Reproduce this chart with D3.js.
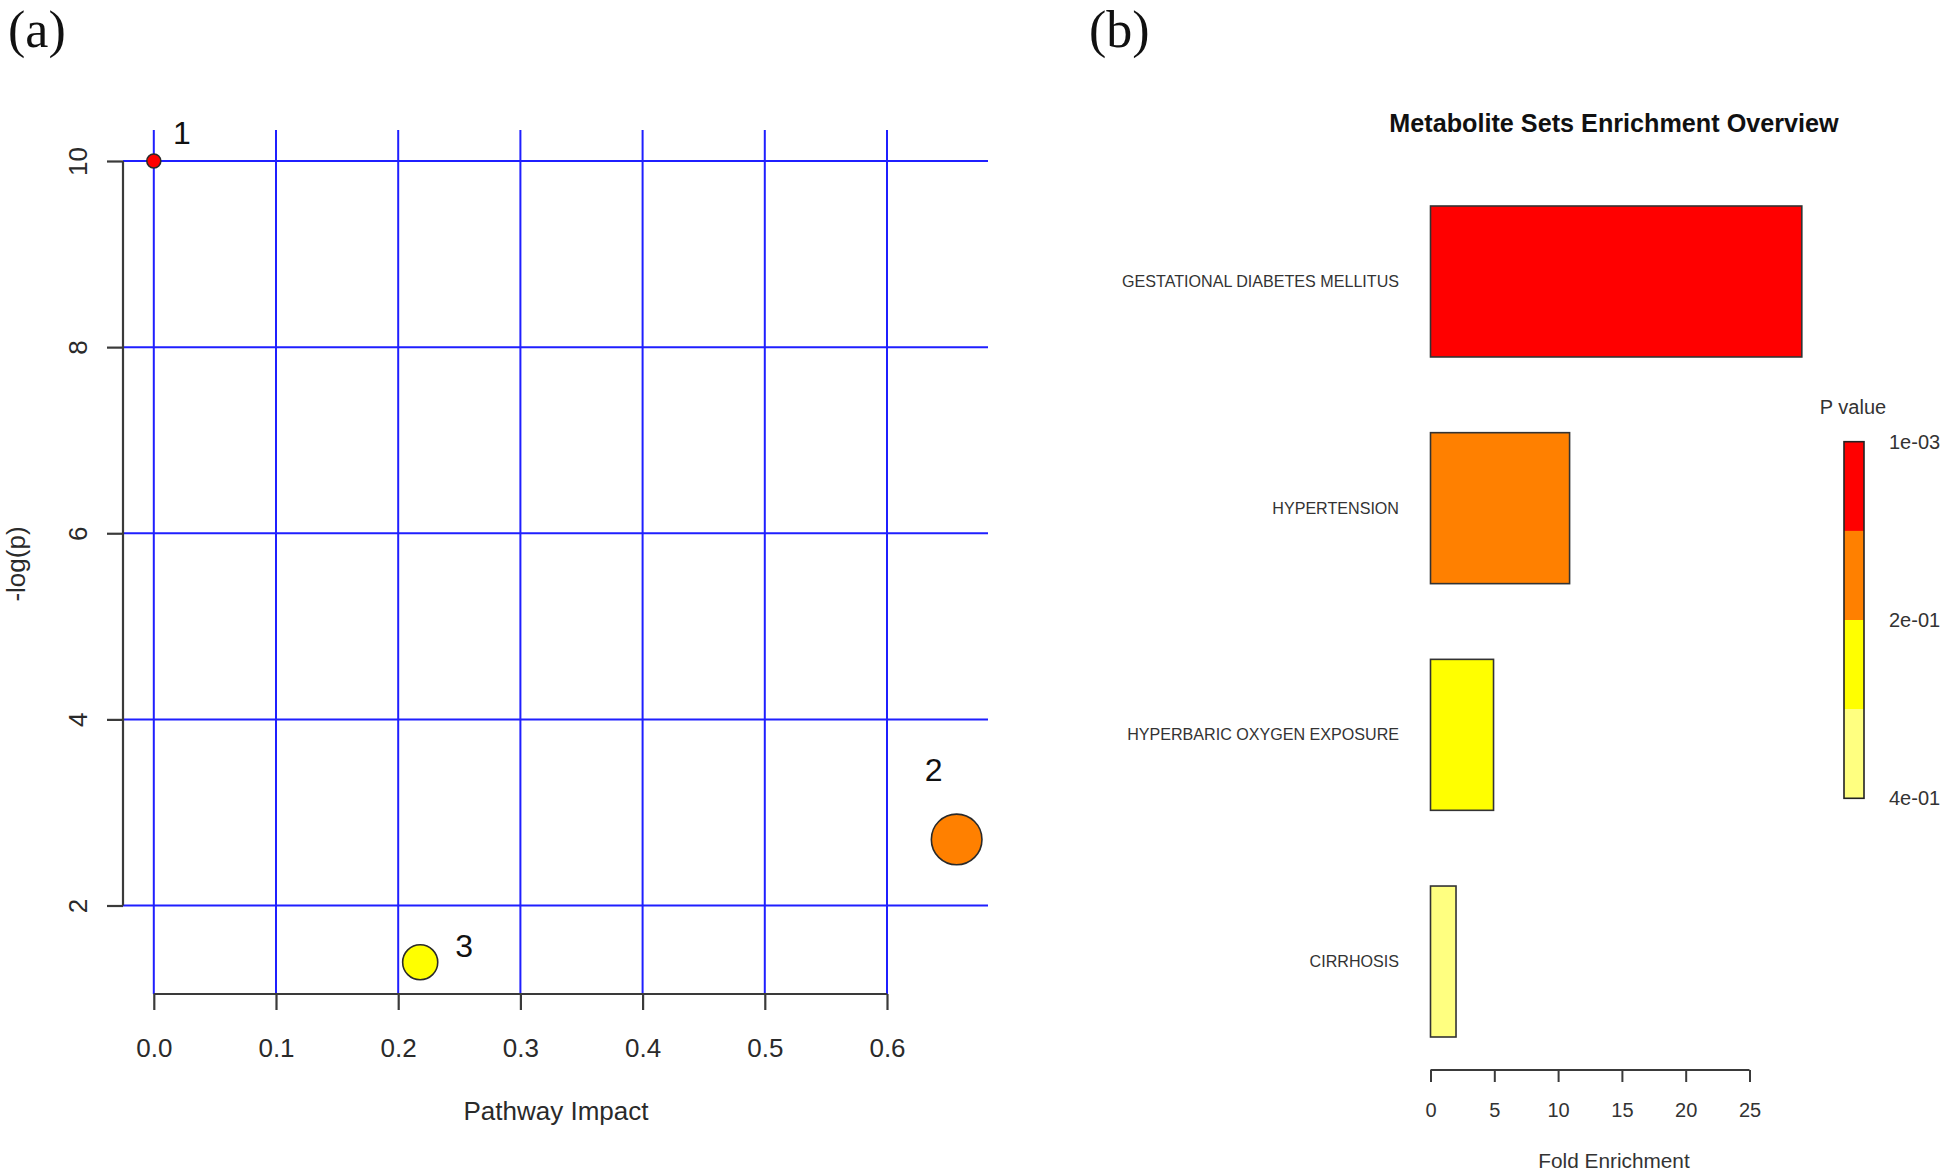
<!DOCTYPE html>
<html>
<head>
<meta charset="utf-8">
<script src="https://cdn.jsdelivr.net/npm/d3@7"></script>
<style>
  html, body { margin: 0; padding: 0; background: #fff; }
  svg { display: block; }
  text { font-family: "Liberation Sans", Arial, sans-serif; }
</style>
</head>
<body>
<svg id="chart" width="1945" height="1173"></svg>
<script>
// ---------------- DATA ----------------
// Panel (a): pathway topology
const pathwayIds = ["1", "2", "3"];
const pathwayImpact = [0.0, 0.657, 0.218];
const negLogP = [10.0, 2.71, 1.39];
const xTicksA = [0.0, 0.1, 0.2, 0.3, 0.4, 0.5, 0.6];
const yTicksA = [2, 4, 6, 8, 10];

// Panel (b): metabolite set enrichment
const metaboliteSets = ["GESTATIONAL DIABETES MELLITUS", "HYPERTENSION", "HYPERBARIC OXYGEN EXPOSURE", "CIRRHOSIS"];
const foldEnrichment = [29.1, 10.9, 4.94, 2.0];
const foldTicks = [0, 5, 10, 15, 20, 25];
const pLegendValues = [0.001, 0.2, 0.4];
const pLegendLabels = ["1e-03", "2e-01", "4e-01"];

// ---------------- STYLE ----------------
const heatColors = ["#FF0000", "#FF8000", "#FFFF00", "#FFFF80"];
const pointColorIdx = [0, 1, 2];
const labelOffsets = [[28, -28], [-23, -70], [44, -16]];
const gridColor = "#1f1fff";
const axisColor = "#3a3a3a";
const textColor = "#2a2a2a";

const svg = d3.select("#chart");

// ================= PANEL (a) =================
const plotA = { left: 123, right: 988, top: 130, bottom: 994 };
const xA = d3.scaleLinear().domain([0, 0.6]).range([153.8, 887]);
const yA = d3.scaleLinear().domain([2, 10]).range([905.5, 161]);
const rA = d3.scaleSqrt().domain([0, 0.657]).range([7, 25.3]);
const gA = svg.append("g");

// panel letter
svg.append("text").attr("x", 8).attr("y", 47)
  .style("font-family", "'Liberation Serif', 'Times New Roman', serif")
  .style("font-size", "52px").attr("fill", "#111").text("(a)");

// gridlines
gA.selectAll("line.hgrid").data(yTicksA).enter().append("line")
  .attr("x1", plotA.left).attr("x2", plotA.right)
  .attr("y1", d => yA(d)).attr("y2", d => yA(d))
  .attr("stroke", gridColor).attr("stroke-width", 2);
gA.selectAll("line.vgrid").data(xTicksA).enter().append("line")
  .attr("x1", d => xA(d)).attr("x2", d => xA(d))
  .attr("y1", plotA.top).attr("y2", plotA.bottom)
  .attr("stroke", gridColor).attr("stroke-width", 2);

// x axis
const xAxisA = d3.axisBottom(xA).tickValues(xTicksA).tickFormat(d3.format(".1f"))
  .tickSize(16).tickSizeOuter(0);
const gx = gA.append("g").attr("transform", `translate(0,${plotA.bottom})`).call(xAxisA);
gx.select(".domain").remove();
gx.append("line").attr("x1", xA(xTicksA[0])).attr("x2", xA(xTicksA[xTicksA.length - 1]))
  .attr("stroke", axisColor).attr("stroke-width", 2.2);
gx.selectAll(".tick line").attr("stroke", axisColor).attr("stroke-width", 2.2);
gx.selectAll(".tick text").attr("y", 54).attr("dy", "0.35em")
  .style("font-size", "26px").attr("fill", textColor)
  .style("font-family", "'Liberation Sans', Arial, sans-serif");

// y axis
const yAxisA = d3.axisLeft(yA).tickValues(yTicksA).tickSize(16).tickSizeOuter(0);
const gy = gA.append("g").attr("transform", `translate(${plotA.left},0)`).call(yAxisA);
gy.select(".domain").remove();
gy.append("line").attr("y1", yA(yTicksA[0])).attr("y2", yA(yTicksA[yTicksA.length - 1]))
  .attr("stroke", axisColor).attr("stroke-width", 2.2);
gy.selectAll(".tick line").attr("stroke", axisColor).attr("stroke-width", 2.2);
gy.selectAll(".tick text")
  .attr("x", 0).attr("dy", "0.35em")
  .attr("transform", "translate(-45,0) rotate(-90)")
  .attr("text-anchor", "middle")
  .style("font-size", "26px").attr("fill", textColor)
  .style("font-family", "'Liberation Sans', Arial, sans-serif");

// axis titles
gA.append("text").attr("x", 556).attr("y", 1120).attr("text-anchor", "middle")
  .style("font-size", "26px").attr("fill", textColor).text("Pathway Impact");
gA.append("text").attr("transform", "translate(16,564) rotate(-90)")
  .attr("dy", "0.35em").attr("text-anchor", "middle")
  .style("font-size", "26px").attr("fill", textColor).text("-log(p)");

// points
const ptsA = pathwayIds.map((id, i) => ({ id, x: pathwayImpact[i], y: negLogP[i], i }));
gA.selectAll("circle.pt").data(ptsA).enter().append("circle")
  .attr("cx", d => xA(d.x)).attr("cy", d => yA(d.y)).attr("r", d => rA(d.x))
  .attr("fill", d => heatColors[pointColorIdx[d.i]])
  .attr("stroke", "#2a2a2a").attr("stroke-width", 1.6);
gA.selectAll("text.lbl").data(ptsA).enter().append("text")
  .attr("x", d => xA(d.x) + labelOffsets[d.i][0])
  .attr("y", d => yA(d.y) + labelOffsets[d.i][1])
  .attr("dy", "0.35em").attr("text-anchor", "middle")
  .style("font-size", "32px").attr("fill", "#111").text(d => d.id);

// ================= PANEL (b) =================
svg.append("text").attr("x", 1089).attr("y", 47)
  .style("font-family", "'Liberation Serif', 'Times New Roman', serif")
  .style("font-size", "52px").attr("fill", "#111").text("(b)");

const gB = svg.append("g");
const xB = d3.scaleLinear().domain([0, 25]).range([1430.5, 1749.5]);
const yB = d3.scaleBand().domain(metaboliteSets).range([206, 1037]).paddingInner(0.334).paddingOuter(0);

gB.append("text").attr("x", 1614).attr("y", 132).attr("text-anchor", "middle")
  .style("font-size", "25.2px").style("font-weight", "bold").attr("fill", "#111")
  .text("Metabolite Sets Enrichment Overview");

gB.selectAll("rect.bar").data(metaboliteSets).enter().append("rect")
  .attr("x", xB(0)).attr("y", d => yB(d))
  .attr("width", (d, i) => xB(foldEnrichment[i]) - xB(0))
  .attr("height", yB.bandwidth())
  .attr("fill", (d, i) => heatColors[i])
  .attr("stroke", "#333").attr("stroke-width", 1.6);

gB.selectAll("text.cat").data(metaboliteSets).enter().append("text")
  .attr("x", 1399).attr("y", d => yB(d) + yB.bandwidth() / 2)
  .attr("dy", "0.35em").attr("text-anchor", "end")
  .style("font-size", "16.1px").attr("fill", "#333").text(d => d);

const xAxisB = d3.axisBottom(xB).tickValues(foldTicks).tickSize(12).tickSizeOuter(0);
const gxb = gB.append("g").attr("transform", "translate(0,1070)").call(xAxisB);
gxb.select(".domain").remove();
gxb.append("line").attr("x1", xB(foldTicks[0])).attr("x2", xB(foldTicks[foldTicks.length - 1]))
  .attr("stroke", axisColor).attr("stroke-width", 2);
gxb.selectAll(".tick line").attr("stroke", axisColor).attr("stroke-width", 2);
gxb.selectAll(".tick text").attr("y", 40).attr("dy", "0.35em")
  .style("font-size", "20px").attr("fill", "#333")
  .style("font-family", "'Liberation Sans', Arial, sans-serif");

gB.append("text").attr("x", 1614).attr("y", 1168).attr("text-anchor", "middle")
  .style("font-size", "20.8px").attr("fill", "#333").text("Fold Enrichment");

// legend
const legY = d3.scaleLinear().domain([0.001, 0.4]).range([441.7, 798.3]);
const legBand = d3.scaleBand().domain(heatColors).range([441.7, 798.3]);
gB.append("text").attr("x", 1853).attr("y", 414).attr("text-anchor", "middle")
  .style("font-size", "20px").attr("fill", "#333").text("P value");
gB.selectAll("rect.leg").data(heatColors).enter().append("rect")
  .attr("x", 1844).attr("width", 20)
  .attr("y", d => legBand(d)).attr("height", legBand.bandwidth() + 0.5)
  .attr("fill", d => d);
gB.append("rect").attr("x", 1844).attr("y", 441.7).attr("width", 20).attr("height", 798.3 - 441.7)
  .attr("fill", "none").attr("stroke", "#222").attr("stroke-width", 1.6);
gB.selectAll("text.leglbl").data(pLegendValues).enter().append("text")
  .attr("x", 1889).attr("y", d => legY(d)).attr("dy", "0.35em")
  .style("font-size", "20px").attr("fill", "#333")
  .text((d, i) => pLegendLabels[i]);
</script>
</body>
</html>
